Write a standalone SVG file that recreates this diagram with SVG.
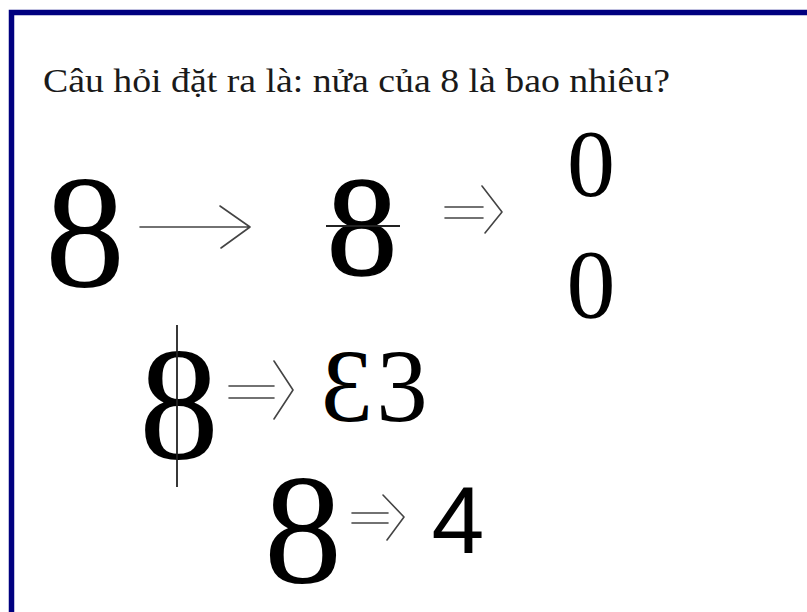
<svg xmlns="http://www.w3.org/2000/svg" width="807" height="612" viewBox="0 0 807 612">
<style>
.d{font-family:"Liberation Serif","Times New Roman",serif;fill:#000;text-anchor:middle}
.s{font-family:"Liberation Sans",Arial,sans-serif;fill:#000;text-anchor:middle}
.t{font-family:"Liberation Serif","Times New Roman",serif;fill:#1a1a1a;font-size:33px}
.a{fill:none;stroke:#444;stroke-width:1.6;stroke-linecap:round;stroke-linejoin:round}
.k{stroke:#222;stroke-width:1.8}
</style>
<rect x="0" y="0" width="807" height="612" fill="#fff"/>
<rect x="11.5" y="12.5" width="820" height="620" fill="none" stroke="#000080" stroke-width="5.5"/>
<g id="title"><text class="t" x="43" y="92" textLength="627" lengthAdjust="spacingAndGlyphs">Câu hỏi đặt ra là: nửa của 8 là bao nhiêu?</text></g>
<g id="eight1"><text class="d" x="85" y="286" font-size="160">8</text></g>
<g id="eight2"><text class="d" x="362" y="275" font-size="141" stroke="#000" stroke-width="1.5">8</text><line class="k" x1="326" y1="226" x2="400" y2="226"/></g>
<g id="zeros"><text class="d" x="591" y="196" font-size="96">0</text><text class="d" x="591" y="317" font-size="98">0</text></g>
<g id="eight3"><text class="d" x="179" y="458" font-size="160">8</text><line class="k" x1="177" y1="325" x2="177" y2="487"/></g>
<g id="e3"><text class="d" transform="translate(347,421) scale(-1,1)" font-size="103">3</text><text class="d" x="402" y="421" font-size="103">3</text></g>
<g id="eight4"><text class="d" x="303" y="582" font-size="156">8</text></g>
<g id="four"><text class="s" x="458" y="553" font-size="95">4</text></g>
<g id="connectors">
<path class="a" d="M140 227H250M220 206L250 227L221 248"/>
<path class="a" d="M445 207H483M445 218H483M482 186L502 212L485 233"/>
<path class="a" d="M229 386H274M229 398H274M274 361L293 390L274 419"/>
<path class="a" d="M352 513H388M352 523H388M383 495L404 517L387 540"/>
</g>
</svg>
